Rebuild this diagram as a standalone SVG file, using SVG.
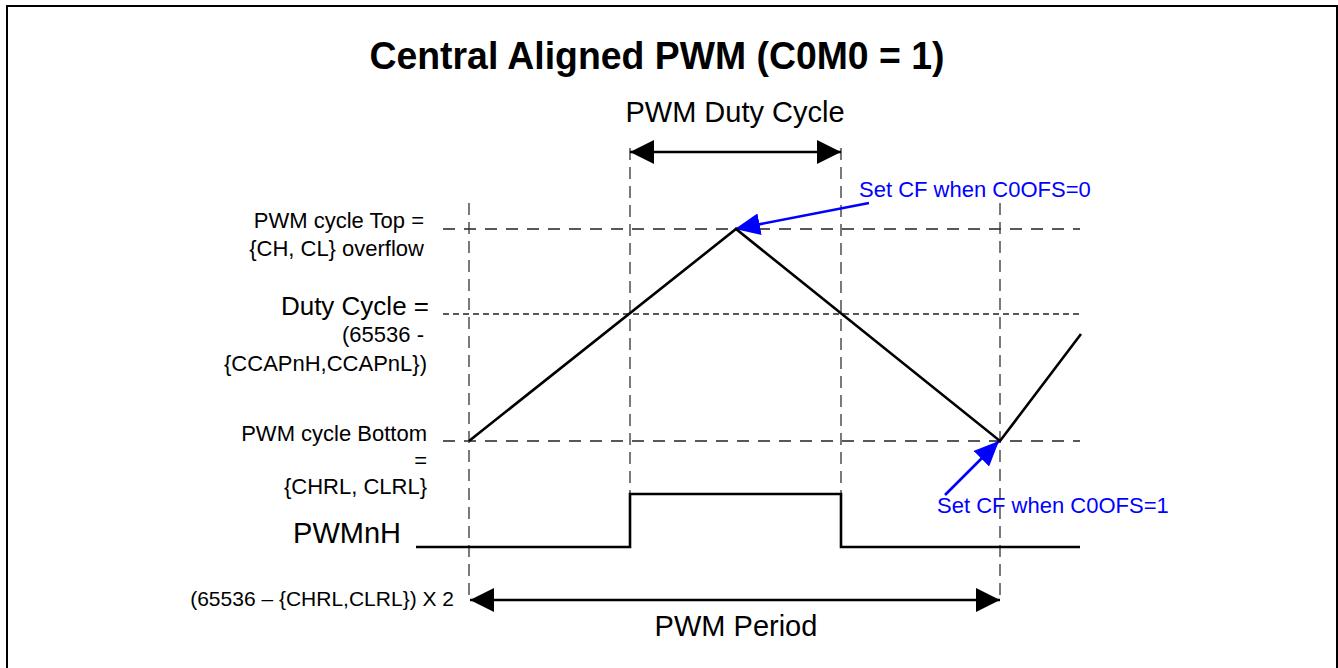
<svg xmlns="http://www.w3.org/2000/svg" width="1338" height="668" viewBox="0 0 1338 668">
<style>
text{font-family:"Liberation Sans",Arial,sans-serif;fill:#000}
.title{font-size:38px;font-weight:bold}
.big{font-size:29px}
.mid{font-size:26px}
.sm{font-size:22px}
.blue{font-size:22px;fill:#0000ff}
.dash{stroke:#222;stroke-width:1.3;stroke-dasharray:12,9;fill:none}
.fine{stroke:#222;stroke-width:1.3;stroke-dasharray:6,4;fill:none}
.vdash{stroke:#333;stroke-width:1.3;stroke-dasharray:12,7;fill:none}
.wave{stroke:#000;stroke-width:2.6;fill:none}
</style>
<defs>
<marker id="ah" viewBox="0 0 24 24" refX="24" refY="12" markerWidth="24" markerHeight="24" markerUnits="userSpaceOnUse" orient="auto-start-reverse">
<path d="M0,0 L24,12 L0,24 z" fill="#000"/>
</marker>
<marker id="bh" viewBox="0 0 25 22" refX="25" refY="11" markerWidth="25" markerHeight="22" markerUnits="userSpaceOnUse" orient="auto">
<path d="M0,0 L25,11 L0,22 z" fill="#0000ff"/>
</marker>
</defs>
<rect x="7" y="6" width="1330" height="700" fill="#fff" stroke="#000" stroke-width="2"/>
<g id="title"><text class="title" x="657" y="69" text-anchor="middle" textLength="575" lengthAdjust="spacingAndGlyphs">Central Aligned PWM (C0M0 = 1)</text></g>
<g id="guides">
<line class="dash" x1="443" y1="229" x2="1080" y2="229"/>
<line class="fine" x1="443" y1="314" x2="1080" y2="314"/>
<line class="dash" x1="443" y1="441" x2="1080" y2="441"/>
<line class="vdash" x1="469" y1="203" x2="469" y2="600"/>
<line class="vdash" x1="1000" y1="203" x2="1000" y2="600"/>
<line class="vdash" x1="630" y1="148" x2="630" y2="494"/>
<line class="vdash" x1="841" y1="148" x2="841" y2="494"/>
</g>
<g id="connectors">
<line x1="630" y1="152" x2="841" y2="152" stroke="#000" stroke-width="2.6" marker-start="url(#ah)" marker-end="url(#ah)"/>
<line x1="470" y1="600" x2="1000" y2="600" stroke="#000" stroke-width="2.6" marker-start="url(#ah)" marker-end="url(#ah)"/>
<line x1="869" y1="203" x2="735" y2="229" stroke="#0000ff" stroke-width="2.6" marker-end="url(#bh)"/>
<line x1="945" y1="495" x2="999" y2="441" stroke="#0000ff" stroke-width="2.6" marker-end="url(#bh)"/>
</g>
<g id="triangle-wave"><polyline class="wave" points="469,441 736,229 1000,441 1081,334"/></g>
<g id="pwm-wave"><polyline class="wave" points="416,547 630,547 630,494 841,494 841,547 1080,547"/></g>
<g id="labels">
<text class="big" x="735" y="122" text-anchor="middle">PWM Duty Cycle</text>
<text class="sm" x="424" y="228" text-anchor="end">PWM cycle Top =</text>
<text class="sm" x="424" y="256" text-anchor="end">{CH, CL} overflow</text>
<text class="mid" x="429" y="315" text-anchor="end">Duty Cycle =</text>
<text class="sm" x="424" y="342" text-anchor="end">(65536 -</text>
<text class="sm" x="427" y="371" text-anchor="end">{CCAPnH,CCAPnL})</text>
<text class="sm" x="427" y="441" text-anchor="end">PWM cycle Bottom</text>
<text class="sm" x="427" y="468" text-anchor="end">=</text>
<text class="sm" x="427" y="494" text-anchor="end">{CHRL, CLRL}</text>
<text class="big" x="401" y="543" text-anchor="end">PWMnH</text>
<text x="454" y="606" text-anchor="end" font-size="21">(65536 – {CHRL,CLRL}) X 2</text>
<text class="big" x="736" y="636" text-anchor="middle">PWM Period</text>
<text class="blue" x="859" y="197">Set CF when C0OFS=0</text>
<text class="blue" x="937" y="513">Set CF when C0OFS=1</text>
</g>
</svg>
